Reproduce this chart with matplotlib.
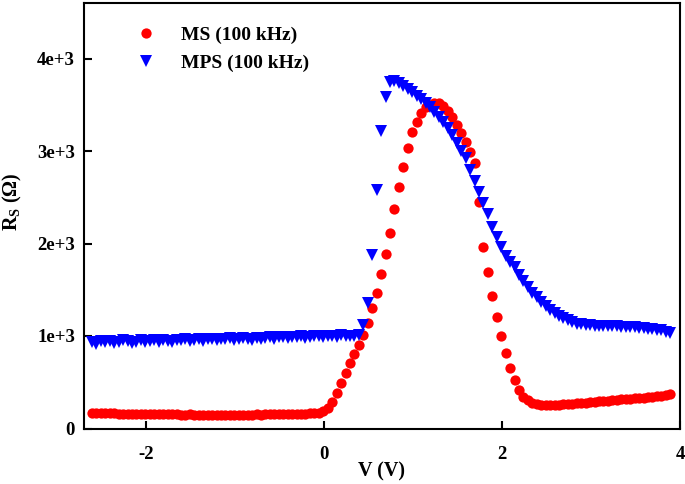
import numpy as np
import matplotlib
matplotlib.use("Agg")
import matplotlib.pyplot as plt

# Voltage sweep grid (V): -2.61 ... 3.89 in 0.05 V steps (131 points)
V_START, V_STOP, N_PTS = -2.61, 3.89, 131
voltage = np.round(np.linspace(V_START, V_STOP, N_PTS), 2)

# MS (100 kHz) series resistance, ohm
rs_ms = [
    170, 168, 165, 166, 163, 164, 162, 160, 161, 158,
    160, 157, 156, 158, 155, 154, 156, 153, 152, 154,
    151, 150, 152, 149, 148, 150, 147, 149, 148, 146,
    148, 147, 150, 148, 149, 151, 150, 152, 151, 153,
    154, 152, 155, 156, 158, 157, 159, 160, 162, 163,
    166, 172,
    190, 225, 289, 386, 494, 602, 703, 804, 901, 1009,
    1141, 1303, 1465, 1667, 1890, 2116, 2370, 2616, 2832, 3033,
    3209, 3317, 3407, 3471, 3500, 3515, 3515, 3490, 3436, 3364,
    3285, 3195, 3100, 2990, 2870, 2447, 1961, 1690, 1433, 1206,
    998, 811, 649, 523, 415, 345, 305, 280, 266, 258,
    254, 254, 256, 259, 263, 266, 270, 273, 278, 281,
    285, 289, 293, 297, 301, 306, 310, 314, 318, 322,
    326, 330, 334, 338, 343, 349, 355, 362, 369,
]

# MPS (100 kHz) series resistance, ohm
rs_mps = [
    940, 918, 945, 935, 950, 925, 930, 952, 945, 928,
    940, 955, 935, 945, 958, 940, 960, 948, 938, 962,
    958, 965, 945, 962, 968, 950, 970, 965, 952, 972,
    968, 975, 958, 965, 978, 972, 960, 975, 970, 982,
    985, 970, 990, 985, 975, 992, 988, 995, 980, 985,
    998, 1000, 988, 1005, 1002, 990, 1008, 1005, 995, 1002,
    1010,
    1117, 1357, 1872, 2573, 3220, 3587, 3741, 3759, 3735, 3705,
    3672, 3640, 3600, 3562, 3522, 3471, 3425, 3368, 3310, 3250,
    3175, 3085, 3000, 2920, 2800, 2680, 2560, 2440, 2315, 2180,
    2065, 1965, 1870, 1800, 1745, 1660, 1590, 1530, 1470, 1420,
    1370, 1320, 1285, 1250, 1215, 1190, 1170, 1150, 1135, 1125,
    1118, 1115, 1112, 1110, 1108, 1106, 1105, 1104, 1100, 1098,
    1096, 1092, 1088, 1085, 1080, 1075, 1068, 1060, 1048, 1030,
]

series_labels = ["MS (100 kHz)", "MPS (100 kHz)"]
x_ticks = [-2, 0, 2, 4]
y_ticks = [0, 1000, 2000, 3000, 4000]
y_ticklabels = ["0", "1e+3", "2e+3", "3e+3", "4e+3"]

plt.rcParams['font.family'] = ['Liberation Serif', 'DejaVu Serif']
plt.rcParams['font.weight'] = 'bold'
plt.rcParams['mathtext.fontset'] = 'custom'
plt.rcParams['mathtext.rm'] = 'Liberation Serif:bold'

W, H = 685, 484
L, R, T, B = 84, 680, 3, 428.5
fig = plt.figure(figsize=(W/100, H/100), dpi=100)
ax = fig.add_axes([L/W, 1 - B/H, (R-L)/W, (B-T)/H])

ax.plot(voltage, rs_ms, linestyle='none', marker='o', markersize=7.4,
        color='#ff0000', markeredgewidth=0, label=series_labels[0])
ax.plot(voltage, rs_mps, linestyle='none', marker='v', markersize=8.3,
        color='#0000ff', markeredgewidth=0, label=series_labels[1])

ax.set_xlim(-2.7, 4.0)
ax.set_ylim(0, 4600)
ax.set_xticks(x_ticks)
ax.set_xticklabels([str(t) for t in x_ticks])
ax.set_yticks(y_ticks)
ax.set_yticklabels(y_ticklabels)

for s in ax.spines.values():
    s.set_linewidth(1.5)
ax.tick_params(axis='both', direction='in', length=6, width=1.5,
               labelsize=13.5)
ax.tick_params(axis='y', pad=6.5)
ax.tick_params(axis='x', pad=12.5)
for lab in ax.get_xticklabels() + ax.get_yticklabels():
    lab.set_fontweight('bold')

ax.set_xlabel("V (V)", fontsize=14.5, fontweight='bold')
ax.xaxis.set_label_coords((381.5 - L)/(R - L), -(461 - B)/(B - T))
ax.set_ylabel(r"R$_\mathregular{S}$ ($\Omega$)", fontsize=14.5, fontweight='bold')
ax.yaxis.set_label_coords(-(L - 24)/(R - L), (B - 201.7)/(B - T))

leg = ax.legend(loc='upper left',
                bbox_to_anchor=((127 - L)/(R - L), (B - 26)/(B - T)),
                frameon=False, fontsize=14, handletextpad=0.8,
                borderaxespad=0, borderpad=0, labelspacing=0.55,
                handlelength=2.0)
for t in leg.get_texts():
    t.set_fontweight('bold')

fig.savefig("out.png", dpi=100)
